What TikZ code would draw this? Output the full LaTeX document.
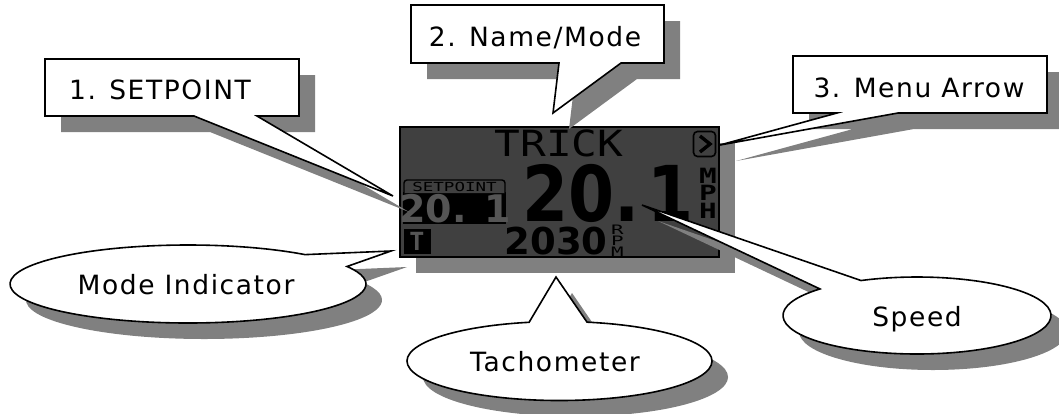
\documentclass[tikz,border=0pt]{standalone}
\usepackage{fontspec}
\setmainfont[LetterSpace=6]{DejaVu Sans}
\newfontfamily\lcdsans{DejaVu Sans}
\newfontfamily\lcdmono{DejaVu Sans Mono}

\definecolor{shadowgray}{HTML}{808080}
\definecolor{lcdgray}{HTML}{404040}
\definecolor{lcdlight}{HTML}{555555}

\begin{document}
\begin{tikzpicture}[x=1pt, y=-1pt,
    callshadow/.style={fill=shadowgray, shift={(16,16)}},
    callline/.style={draw=black, fill=white, line width=1.6pt},
    calltext/.style={anchor=base, inner sep=0pt, font=\fontsize{26.5}{30}\selectfont},
    lcdtext/.style={inner sep=0pt, text=black, transform shape}]
    \useasboundingbox (0,0) rectangle (1059,413);

    % Draw the display
    \fill[shadowgray] (416,143) rectangle (735,273);
    \draw[fill=lcdgray, line width=2pt] (400,127) rectangle (719,257);

    % Display texts
    \node[lcdtext, xscale=1.19, font=\lcdmono\fontsize{36}{36}\selectfont] (trick) at (559,143) {TRICK};
    \node[lcdtext, xscale=0.86, font=\lcdsans\bfseries\fontsize{77}{77}\selectfont] (speedval) at (608,193) {20.\kern10pt 1};
    \node[lcdtext, xscale=1.4, align=center, font=\lcdmono\bfseries\fontsize{21}{17.5}\selectfont] (mph) at (708,193) {M\\P\\H};
    \node[lcdtext, font=\lcdsans\bfseries\fontsize{37}{37}\selectfont] (rpmval) at (556,241) {2030};
    \node[lcdtext, xscale=1.6, align=center, font=\lcdmono\fontsize{13}{11}\selectfont] (rpm) at (617.5,241) {R\\P\\M};

    % Setpoint readout
    \fill[black] (403,192) rectangle (506,224);
    \draw[fill=lcdgray, line width=1.4pt, rounded corners=3pt] (404,193) -- (404,180) -- (505,180) -- (505,193);
    \node[lcdtext, xscale=1.4, font=\lcdmono\fontsize{12.5}{12.5}\selectfont] (setlabel) at (454.5,186.5) {SETPOINT};
    \node[lcdtext, text=lcdlight, font=\lcdsans\bfseries\fontsize{38}{38}\selectfont] (setval) at (455,209) {20. 1};

    % Mode icon and menu arrow
    \node[draw=black, fill=black, text=lcdlight, minimum width=26pt, minimum height=24pt, inner sep=0pt, font=\lcdmono\bfseries\fontsize{25}{25}\selectfont] (modeicon) at (417,241) {T};
    \node[draw=black, line width=1.6pt, rounded corners=4pt, minimum width=22pt, minimum height=25pt, inner sep=0pt] (menuicon) at (704.5,144) {};
    \draw[line width=3.4pt] (700,136) -- (710,144) -- (700,152);

    % 1. Setpoint callout
    \path[callshadow] (45,59) -- (299,59) -- (299,116) -- (257,116) -- (393,196) -- (194,116) -- (45,116) -- cycle;
    \draw[callline] (45,59) -- (299,59) -- (299,116) -- (257,116) -- (393,196) -- (194,116) -- (45,116) -- cycle;
    \node[calltext] (setpoint) at (160,99) {1. SETPOINT};

    % 2. Name callout
    \path[callshadow] (411,5) -- (664,5) -- (664,63) -- (621,63) -- (553,113) -- (559,63) -- (411,63) -- cycle;
    \draw[callline] (411,5) -- (664,5) -- (664,63) -- (621,63) -- (553,113) -- (559,63) -- (411,63) -- cycle;
    \node[calltext] (name) at (535,46) {2. Name/Mode};

    % 3. Menu callout
    \path[callshadow] (793,56) -- (1047,56) -- (1047,113) -- (898,113) -- (720,145) -- (837,113) -- (793,113) -- cycle;
    \draw[callline] (793,56) -- (1047,56) -- (1047,113) -- (898,113) -- (720,145) -- (837,113) -- (793,113) -- cycle;
    \node[calltext] (menu) at (919,97) {3. Menu Arrow};

    % Mode indicator bubble
    \path[callshadow] (188,284) ++(48.9:178pt and 39pt) arc[start angle=48.9, end angle=386.7, x radius=178pt, y radius=39pt] -- (391,251) -- cycle;
    \draw[callline] (188,284) ++(48.9:178pt and 39pt) arc[start angle=48.9, end angle=386.7, x radius=178pt, y radius=39pt] -- (391,251) -- cycle;
    \node[calltext] (mode) at (186,294) {Mode Indicator};

    % Tachometer bubble
    \path[callshadow] (559.5,361) ++(101.5:152.5pt and 39.5pt) arc[start angle=101.5, end angle=439.6, x radius=152.5pt, y radius=39.5pt] -- (556,277) -- cycle;
    \draw[callline] (559.5,361) ++(101.5:152.5pt and 39.5pt) arc[start angle=101.5, end angle=439.6, x radius=152.5pt, y radius=39.5pt] -- (556,277) -- cycle;
    \node[calltext] (tach) at (555,371) {Tachometer};

    % Speed bubble
    \path[callshadow] (917,315.5) ++(136.4:134pt and 38.5pt) arc[start angle=136.4, end angle=474.7, x radius=134pt, y radius=38.5pt] -- (642,205) -- cycle;
    \draw[callline] (917,315.5) ++(136.4:134pt and 38.5pt) arc[start angle=136.4, end angle=474.7, x radius=134pt, y radius=38.5pt] -- (642,205) -- cycle;
    \node[calltext] (speed) at (917,326) {Speed};
\end{tikzpicture}
\end{document}
